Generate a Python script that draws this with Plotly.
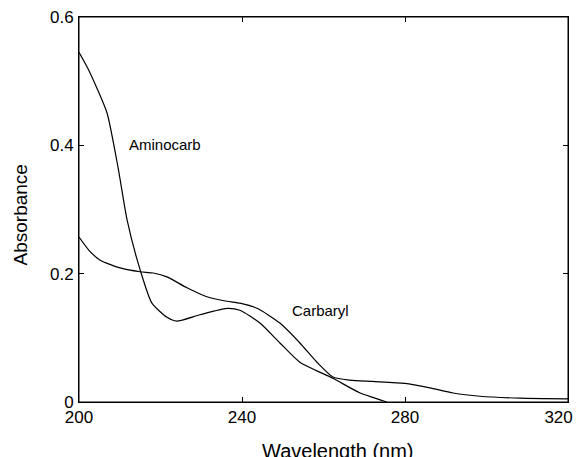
import plotly.graph_objects as go

amino_wl = [200, 202, 204.4, 206.9, 209.6, 211.8, 215.0, 217.9, 221.6, 224.0, 229.7, 236.3, 239.5,
            244.4, 249.3, 254.2, 262.3, 269.0, 274.6, 275.5]
amino_abs = [0.545, 0.522, 0.489, 0.450, 0.365, 0.284, 0.206, 0.154, 0.132, 0.126, 0.136, 0.146, 0.143,
             0.123, 0.092, 0.062, 0.037, 0.014, 0.002, 0.0]

carb_wl = [200, 202.5, 205.2, 210.1, 215.0, 218.2, 221.6, 226.5, 231.4, 236.3, 239.5, 243.7, 249.3,
           254.2, 258.4, 262.3, 266.5, 272, 280, 286.1, 291.8, 298.4, 308.2, 320]
carb_abs = [0.257, 0.236, 0.221, 0.209, 0.203, 0.201, 0.195, 0.178, 0.164, 0.157, 0.154, 0.146, 0.123,
            0.092, 0.062, 0.039, 0.034, 0.032, 0.029, 0.022, 0.014, 0.009, 0.006, 0.005]

x_ticks = [200, 240, 280, 320]
x_ticklabels = ["200", "240", "280", "320\u00a0\u00a0\u00a0\u00a0"]
y_ticks = [0, 0.2, 0.4, 0.6]
y_ticklabels = ["0", "0.2", "0.4", "0.6"]

FONT = "Liberation Sans, Arial, sans-serif"

fig = go.Figure()
fig.add_trace(go.Scatter(x=amino_wl, y=amino_abs, mode="lines", name="Aminocarb",
                         line=dict(color="black", width=1.2, shape="spline", smoothing=0.6)))
fig.add_trace(go.Scatter(x=carb_wl, y=carb_abs, mode="lines", name="Carbaryl",
                         line=dict(color="black", width=1.2, shape="spline", smoothing=0.6)))

fig.add_annotation(x=211.8, y=0.401, text="Aminocarb", showarrow=False, xanchor="left",
                   font=dict(family=FONT, size=15, color="black"))
fig.add_annotation(x=251.8, y=0.143, text="Carbaryl", showarrow=False, xanchor="left",
                   font=dict(family=FONT, size=15, color="black"))

fig.add_annotation(xref="paper", yref="paper", x=0.53, y=0, yshift=-49, yanchor="middle",
                   text="Wavelength (nm)", showarrow=False,
                   font=dict(family=FONT, size=20, color="black"))
fig.add_annotation(xref="paper", yref="paper", x=0, xshift=-59, y=0.5, yshift=-6, xanchor="center",
                   textangle=-90, text="Absorbance", showarrow=False,
                   font=dict(family=FONT, size=19, color="black"))

# plot frame (box around the axes)
fig.add_shape(type="rect", xref="paper", yref="paper", x0=0, x1=1, y0=0, y1=1,
              line=dict(color="black", width=1), fillcolor="rgba(0,0,0,0)", layer="above")

axis_common = dict(showgrid=False, zeroline=False, showline=True, linecolor="black", linewidth=1,
                   ticks="inside", ticklen=5, tickcolor="black", mirror="ticks",
                   ticklabeloverflow="allow", automargin=False,
                   tickfont=dict(family=FONT, size=17, color="black"))

fig.update_xaxes(range=[200, 320], tickvals=x_ticks, ticktext=x_ticklabels, **axis_common)
fig.update_yaxes(range=[0, 0.6], tickvals=y_ticks, ticktext=y_ticklabels, ticklabelstandoff=1,
                 **axis_common)

fig.update_layout(width=579, height=457, margin=dict(l=79, r=11, t=17, b=55, autoexpand=False),
                  paper_bgcolor="white", plot_bgcolor="white", showlegend=False,
                  font=dict(family=FONT, color="black"))

fig.write_html("out.html", config={"displayModeBar": False},
               post_script=("document.body.style.margin='0';"
                            "document.body.style.overflow='hidden';"
                            "document.documentElement.style.overflow='hidden';"))
